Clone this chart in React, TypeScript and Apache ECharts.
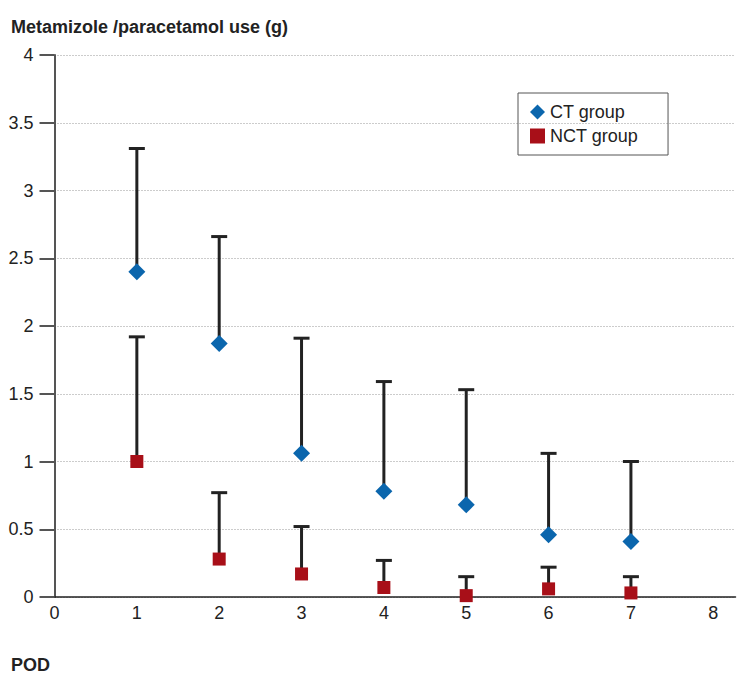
import React, { useEffect, useRef } from "react";
import * as echarts from "echarts";

const days = [1, 2, 3, 4, 5, 6, 7];
const ctMean = [2.4, 1.87, 1.06, 0.78, 0.68, 0.46, 0.41];
const ctUpper = [3.31, 2.66, 1.91, 1.59, 1.53, 1.06, 1.0];
const nctMean = [1.0, 0.28, 0.17, 0.07, 0.01, 0.06, 0.03];
const nctUpper = [1.92, 0.77, 0.52, 0.27, 0.15, 0.22, 0.15];
const yTicks = [0, 0.5, 1, 1.5, 2, 2.5, 3, 3.5, 4];

const CT_COLOR = "#0b66ad";
const NCT_COLOR = "#a80f18";
const FONT = "'Liberation Sans', Arial, sans-serif";

function errorSeries(name: string, means: number[], uppers: number[]) {
  return {
    name: name + " err",
    type: "custom",
    z: 1,
    silent: true,
    data: days.map((d, i) => [d, means[i], uppers[i]]),
    renderItem: (params: any, api: any) => {
      const x = api.value(0);
      const p0 = api.coord([x, api.value(1)]);
      const p1 = api.coord([x, api.value(2)]);
      const half = 8;
      const style = { stroke: "#222", lineWidth: 3 };
      return {
        type: "group",
        children: [
          { type: "line", shape: { x1: p0[0], y1: p0[1], x2: p1[0], y2: p1[1] }, style },
          { type: "line", shape: { x1: p1[0] - half, y1: p1[1], x2: p1[0] + half, y2: p1[1] }, style },
        ],
      };
    },
  };
}

export default function App() {
  const ref = useRef<HTMLDivElement>(null);
  useEffect(() => {
    const chart = echarts.init(ref.current!, undefined, { renderer: "svg" });
    chart.setOption({
      animation: false,
      textStyle: { fontFamily: FONT },
      grid: { left: 54.5, right: 3.5, top: 55, bottom: 86 },
      graphic: [
        { type: "text", left: 11, top: 18, style: { text: "Metamizole /paracetamol use (g)", font: `bold 18px ${FONT}`, fill: "#222" } },
        { type: "text", left: 11, top: 656, style: { text: "POD", font: `bold 18px ${FONT}`, fill: "#222" } },
      ],
      legend: {
        orient: "vertical",
        left: 518,
        top: 93,
        borderColor: "#555",
        borderWidth: 1,
        padding: [10, 30, 10, 12],
        itemGap: 6,
        itemWidth: 15,
        itemHeight: 15,
        textStyle: { fontSize: 18, fontFamily: FONT, color: "#222", padding: [0, 0, 0, 0] },
        data: [
          { name: "CT group", icon: "diamond" },
          { name: "NCT group", icon: "rect" },
        ],
      },
      xAxis: {
        type: "value",
        min: 0,
        max: 8.27,
        interval: 1,
        axisLine: { show: true, lineStyle: { color: "#222", width: 1.5 } },
        axisTick: { show: false },
        splitLine: { show: false },
        axisLabel: {
          margin: 7,
          fontSize: 18,
          fontFamily: FONT,
          color: "#222",
          showMaxLabel: true,
          formatter: (v: number) => (Number.isInteger(v) ? String(v) : ""),
        },
      },
      yAxis: {
        type: "value",
        min: 0,
        max: 4,
        interval: 0.5,
        axisLine: { show: true, onZero: false, lineStyle: { color: "#555", width: 2 } },
        axisTick: { show: true, inside: false, length: 15, lineStyle: { color: "#555", width: 2 } },
        splitLine: { show: true, lineStyle: { color: "#999", type: [1, 2], width: 1 } },
        axisLabel: {
          margin: 21,
          fontSize: 18,
          fontFamily: FONT,
          color: "#222",
          formatter: (v: number) => (yTicks.includes(v) ? String(v) : ""),
        },
      },
      series: [
        errorSeries("CT group", ctMean, ctUpper),
        errorSeries("NCT group", nctMean, nctUpper),
        {
          name: "CT group",
          type: "scatter",
          z: 3,
          symbol: "diamond",
          symbolSize: 17,
          itemStyle: { color: CT_COLOR, opacity: 1 },
          data: days.map((d, i) => [d, ctMean[i]]),
        },
        {
          name: "NCT group",
          type: "scatter",
          z: 3,
          symbol: "rect",
          symbolSize: 13,
          itemStyle: { color: NCT_COLOR, opacity: 1 },
          data: days.map((d, i) => [d, nctMean[i]]),
        },
      ],
    });
    return () => chart.dispose();
  }, []);
  return <div ref={ref} style={{ width: 739, height: 683, position: "absolute", left: 0, top: 0 }} />;
}
